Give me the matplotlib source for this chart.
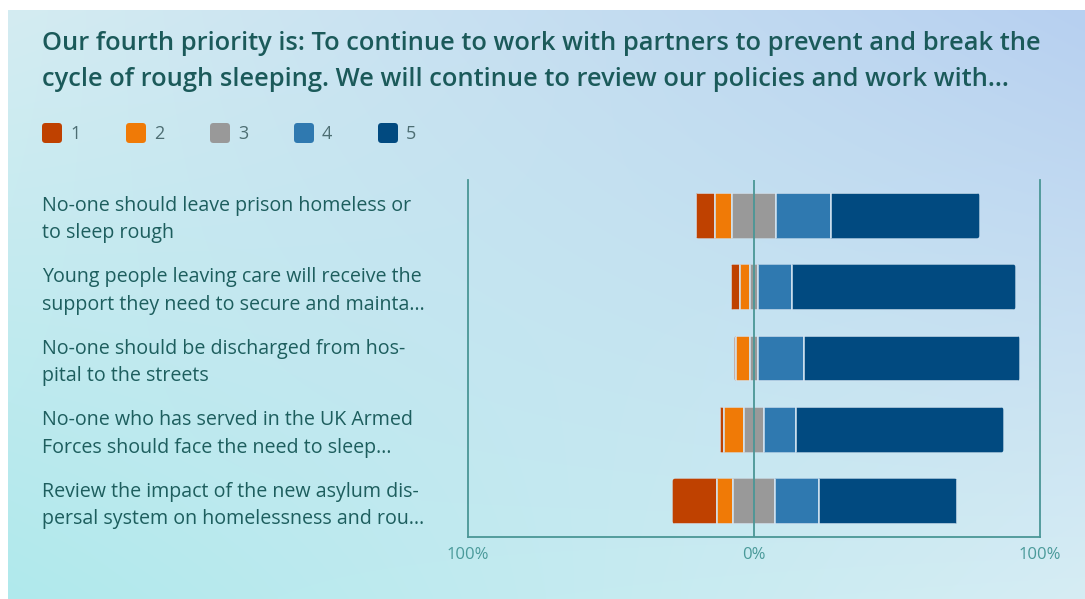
import matplotlib.pyplot as plt
import numpy as np
from matplotlib.patches import FancyBboxPatch

plt.rcParams['font.family'] = ['Open Sans', 'DejaVu Sans']

title = ('Our fourth priority is: To continue to work with partners to prevent and break the\n'
         'cycle of rough sleeping. We will continue to review our policies and work with...')

categories = [
    'No-one should leave prison homeless or\nto sleep rough',
    'Young people leaving care will receive the\nsupport they need to secure and mainta...',
    'No-one should be discharged from hos-\npital to the streets',
    'No-one who has served in the UK Armed\nForces should face the need to sleep...',
    'Review the impact of the new asylum dis-\npersal system on homelessness and rou...',
]
levels = ['1', '2', '3', '4', '5']
colors = ['#bf4100', '#f07a06', '#999999', '#2f79b0', '#014a80']

# percentage of responses per level, one entry per statement
share1 = [6.7, 3.1, 0.4, 1.4, 15.7]
share2 = [5.9, 3.5, 4.9, 7.0, 5.3]
share3 = [15.7, 3.1, 3.1, 7.3, 15.0]
share4 = [18.9, 11.9, 16.1, 10.9, 15.4]
share5 = [52.1, 78.0, 75.2, 72.7, 48.2]

xticks = [-100, 0, 100]
xticklabels = ['100%', '0%', '100%']

W, H = 1085, 599
fig = plt.figure(figsize=(W / 100, H / 100), dpi=100)
fig.patch.set_facecolor('white')

# soft four-corner gradient panel behind everything
bg = fig.add_axes([8 / W, 0, 1 - 8 / W, 1 - 10 / H], zorder=0)
tl = np.array([212, 236, 242]) / 255
tr = np.array([183, 208, 240]) / 255
bl = np.array([176, 233, 236]) / 255
br = np.array([214, 237, 244]) / 255
u = np.linspace(0, 1, 300)[None, :, None]
v = np.linspace(0, 1, 200)[:, None, None]
grad = (1 - v) * ((1 - u) * tl + u * tr) + v * ((1 - u) * bl + u * br)
bg.imshow(grad, aspect='auto', extent=[0, 1, 0, 1], interpolation='bilinear')
bg.axis('off')

ax = fig.add_axes([468 / W, 1 - 537 / H, 572 / W, 357 / H], zorder=1)
ax.set_facecolor('none')

s1, s2, s3, s4, s5 = (np.array(s) for s in (share1, share2, share3, share4, share5))
y = np.arange(len(categories))
left = -(s1 + s2 + s3 / 2)
total = s1 + s2 + s3 + s4 + s5
bar_h = 0.64

# outer rounded shape of each bar, used to clip the segments
px_x = 572 / 200
px_y = 357 / len(categories)
r = 3.5 / px_x
clips = []
for i in range(len(categories)):
    p = FancyBboxPatch((left[i], y[i] - bar_h / 2), total[i], bar_h,
                       boxstyle=f'round,pad=0,rounding_size={r}',
                       mutation_aspect=(3.5 / px_y) / r,
                       facecolor='none', edgecolor='none')
    ax.add_patch(p)
    clips.append(p)

start = left.copy()
for vals, col in zip((s1, s2, s3, s4, s5), colors):
    bars = ax.barh(y, vals, left=start, height=bar_h, color=col,
                   edgecolor='#d3e4f1', linewidth=1.1, zorder=2)
    for b, p in zip(bars, clips):
        b.set_clip_path(p)
    start = start + vals

ax.axvline(0, color='#4a9696', lw=1.3, zorder=3)
ax.set_xlim(-100, 100)
ax.set_ylim(len(categories) - 0.5, -0.5)
ax.set_xticks(xticks)
ax.set_xticklabels(xticklabels, fontsize=12, color='#4a9a9a')
ax.tick_params(axis='x', length=0, pad=7)
ax.set_yticks([])
ax.spines['top'].set_visible(False)
for s in ('left', 'right', 'bottom'):
    ax.spines[s].set_color('#4a9696')
    ax.spines[s].set_linewidth(1.3)

# statement labels on the left, centred on each bar
for i, lab in enumerate(categories):
    yy = ax.transData.transform((0, y[i]))[1] / fig.dpi / (H / 100) - 4 / H
    fig.text(42 / W, yy, lab, ha='left', va='center', fontsize=14.1,
             color='#1d5e5e', linespacing=1.5)

fig.text(42 / W, 1 - 31 / H, title, ha='left', va='top', fontsize=18.4,
         color='#1b5a5a', fontweight='semibold', linespacing=1.6)

# legend of rounded swatches
for k, (lev, col) in enumerate(zip(levels, colors)):
    x0 = (42 + 84 * k) / 100
    sw = FancyBboxPatch((x0, (H - 143) / 100), 0.2, 0.2,
                        boxstyle='round,pad=0,rounding_size=0.035',
                        transform=fig.dpi_scale_trans, facecolor=col,
                        edgecolor='none')
    fig.add_artist(sw)
    fig.text((x0 + 0.28) / (W / 100), 1 - 134 / H, lev, ha='left', va='center',
             fontsize=13, color='#4d6e73')

fig.savefig('out.png', dpi=100)
